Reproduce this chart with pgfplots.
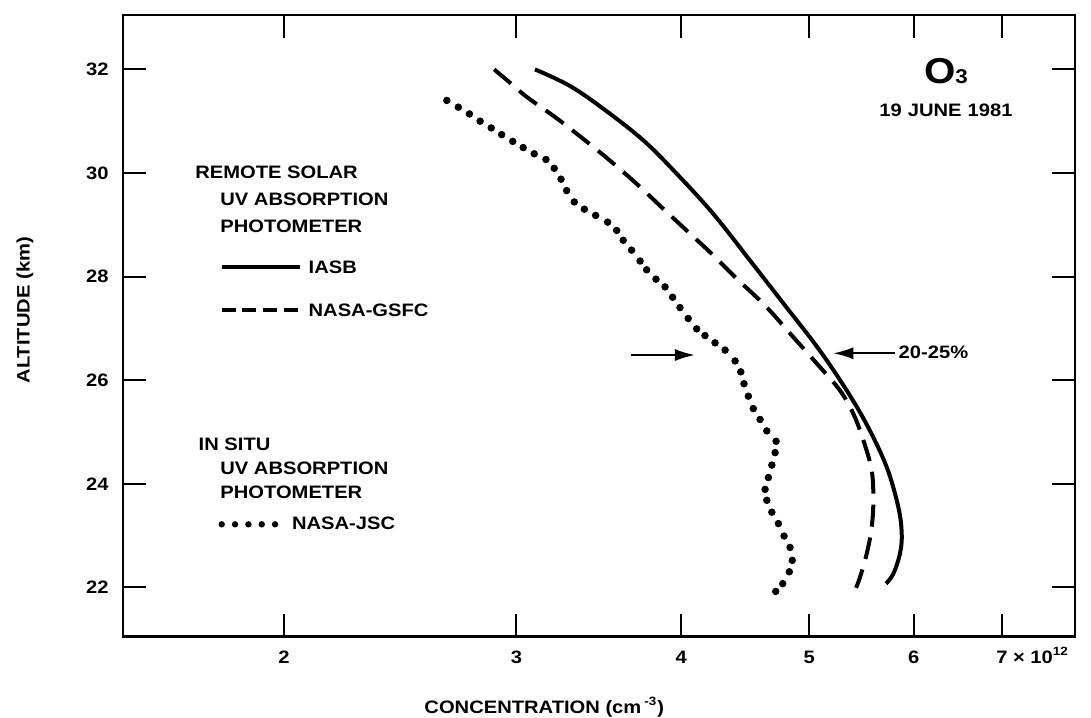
\documentclass[border=0pt]{standalone}
\usepackage{fontspec}
\setmainfont{Liberation Sans}[FakeStretch=1.12]
\usepackage{pgfplots}
\pgfplotsset{compat=1.18}
\usetikzlibrary{arrows.meta}

\begin{document}
\begin{tikzpicture}[font=\fontsize{9}{11}\selectfont\bfseries,
  lbl/.style={anchor=base west, inner sep=0pt, font=\fontsize{9}{11}\selectfont\bfseries}]
\useasboundingbox (-61.5pt,-40.25pt) rectangle (484pt,318.25pt);
\begin{axis}[
  at={(0,0)}, anchor=south west,
  scale only axis, width=476pt, height=310.75pt,
  xmode=log, xmin=1.5102, xmax=7.953, ymin=21.05, ymax=33.05,
  xtick={2,3,4,5,6,7},
  xticklabels={2,3,4,5,6,{7\rlap{ × 10\textsuperscript{12}}}},
  minor xtick={}, minor ytick={},
  ytick={22,24,26,28,30,32}, yticklabels={22,24,26,28,30,32},
  tick align=inside, major tick length=11.5pt,
  xtick pos=both, ytick pos=both,
  axis line style={line width=1.3pt},
  every tick/.style={black, line width=1pt},
  tick label style={font=\fontsize{9}{11}\selectfont\bfseries},
  label style={font=\fontsize{9}{11}\selectfont\bfseries},
  xticklabel style={anchor=base, yshift=-13.5pt},
  yticklabel style={anchor=east, xshift=-3.7pt},
  xlabel={CONCENTRATION (cm\,\textsuperscript{-3})},
  ylabel={ALTITUDE (km)},
  xlabel style={at={(axis description cs:0.4425,0)}, anchor=base, yshift=-38.5pt},
  ylabel style={at={(axis description cs:-0.103,0.525)}, anchor=center},
  clip=false,
]
% IASB (solid)
\addplot[black, line width=2pt, smooth, tension=0.6] coordinates {
(3.099,32.00) (3.294,31.68) (3.500,31.22) (3.744,30.63) (3.968,29.99)
(4.230,29.21) (4.510,28.31) (4.781,27.48) (5.081,26.61) (5.339,25.80)
(5.540,25.10) (5.725,24.32) (5.842,23.55) (5.877,23.04) (5.859,22.65)
(5.791,22.26) (5.718,22.07)
};
% NASA-GSFC (dashed)
\addplot[black, line width=2pt, smooth, tension=0.6, dash pattern=on 11pt off 5.5pt] coordinates {
(2.886,32.00) (2.958,31.77) (3.054,31.47) (3.209,31.08) (3.363,30.68)
(3.532,30.24) (3.701,29.79) (3.876,29.31) (4.049,28.86) (4.218,28.44)
(4.406,27.96) (4.630,27.44) (4.864,26.83) (5.096,26.25) (5.277,25.80)
(5.401,25.35) (5.496,24.84) (5.577,24.26) (5.593,23.68) (5.577,23.16)
(5.529,22.65) (5.465,22.20) (5.427,21.99)
};
% NASA-JSC (dots)
\addplot[black, only marks, mark=*, mark size=1.65pt] coordinates {
(2.657,31.40) (2.711,31.27) (2.764,31.14) (2.816,31.00) (2.871,30.87)
(2.924,30.74) (2.981,30.61) (3.036,30.49) (3.095,30.37) (3.159,30.26)
(3.205,30.09) (3.243,29.88) (3.275,29.66) (3.319,29.44) (3.378,29.30)
(3.445,29.18) (3.518,29.05) (3.574,28.89) (3.615,28.70) (3.668,28.51)
(3.723,28.30) (3.766,28.13) (3.828,27.95) (3.889,27.80) (3.941,27.60)
(3.992,27.40) (4.049,27.19) (4.109,26.99) (4.169,26.86) (4.243,26.72)
(4.318,26.58) (4.394,26.37) (4.438,26.16) (4.463,25.93) (4.497,25.69)
(4.536,25.45) (4.590,25.24) (4.644,25.02) (4.720,24.82) (4.712,24.60)
(4.685,24.36) (4.657,24.12) (4.630,23.89) (4.644,23.68) (4.685,23.45)
(4.739,23.23) (4.786,22.99) (4.836,22.77) (4.855,22.52) (4.830,22.30)
(4.775,22.07) (4.717,21.92)
};
% key texts
\node[lbl] at (rel axis cs:0.0756,0.7377) {REMOTE SOLAR};
\node[lbl] at (rel axis cs:0.1019,0.6927) {UV ABSORPTION};
\node[lbl] at (rel axis cs:0.1019,0.6508) {PHOTOMETER};
\node[lbl] at (rel axis cs:0.1946,0.5844) {IASB};
\node[lbl] at (rel axis cs:0.1946,0.5146) {NASA-GSFC};
\node[lbl] at (rel axis cs:0.0791,0.2985) {IN SITU};
\node[lbl] at (rel axis cs:0.1019,0.2599) {UV ABSORPTION};
\node[lbl] at (rel axis cs:0.1019,0.2228) {PHOTOMETER};
\node[lbl] at (rel axis cs:0.1772,0.1714) {NASA-JSC};
\draw[line width=1.8pt] (rel axis cs:0.1037,0.5950) -- (rel axis cs:0.1859,0.5950);
\draw[line width=1.8pt, dash pattern=on 7pt off 3.33pt] (rel axis cs:0.1037,0.5253) -- (rel axis cs:0.1859,0.5253);
\draw[line width=3.2pt, line cap=round, dash pattern=on 0pt off 6.67pt] (rel axis cs:0.1037,0.1805) -- (rel axis cs:0.1600,0.1805);
% arrows
\draw[line width=1pt, -{Latex[length=10pt,width=6pt]}] (rel axis cs:0.5333,0.4529) -- (rel axis cs:0.6008,0.4529);
\draw[line width=1pt, -{Latex[length=10pt,width=6pt]}] (rel axis cs:0.8109,0.4557) -- (rel axis cs:0.7461,0.4557);
\node[lbl] at (rel axis cs:0.8144,0.4476) {20-25\%};
% title
\node[anchor=base, inner sep=0pt] at (rel axis cs:0.8645,0.889) {\fontsize{18}{20}\selectfont\bfseries O\fontsize{10}{12}\selectfont 3};
\node[anchor=base, inner sep=0pt, font=\fontsize{9}{11}\selectfont\bfseries] at (rel axis cs:0.8645,0.8367) {19\,\,JUNE\,\,1981};
\end{axis}
\end{tikzpicture}
\end{document}
